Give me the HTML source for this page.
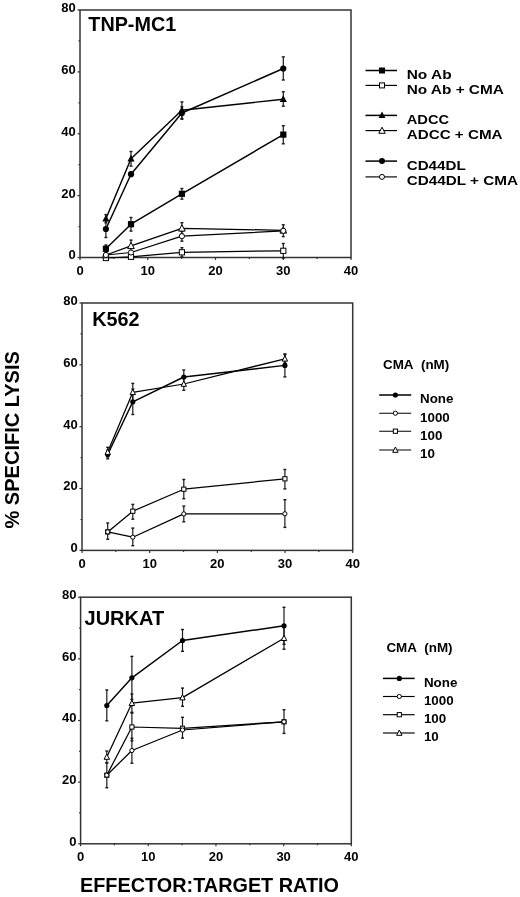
<!DOCTYPE html>
<html><head><meta charset="utf-8"><style>
html,body{margin:0;padding:0;background:#fff;}
body{width:520px;height:897px;overflow:hidden;}
svg{display:block;will-change:transform;}
text{font-family:"Liberation Sans",sans-serif;font-weight:bold;fill:#000;}
.t{font-size:13px;}
.ti{font-size:19.8px;}
.lg{font-size:13.4px;}
.lg1{font-size:12px;}
.ax{font-size:20.5px;}
</style></head><body>
<svg width="520" height="897" viewBox="0 0 520 897">
<rect width="520" height="897" fill="#fff"/>
<rect x="80.00" y="10.00" width="271.00" height="247.50" fill="none" stroke="#333" stroke-width="1.5"/>
<line x1="77.50" y1="257.50" x2="80.00" y2="257.50" stroke="#333" stroke-width="1.2"/>
<text x="75.80" y="259.40" text-anchor="end" class="t">0</text>
<line x1="78.50" y1="226.56" x2="80.00" y2="226.56" stroke="#333" stroke-width="1.2"/>
<line x1="77.50" y1="195.62" x2="80.00" y2="195.62" stroke="#333" stroke-width="1.2"/>
<text x="75.80" y="197.53" text-anchor="end" class="t">20</text>
<line x1="78.50" y1="164.69" x2="80.00" y2="164.69" stroke="#333" stroke-width="1.2"/>
<line x1="77.50" y1="133.75" x2="80.00" y2="133.75" stroke="#333" stroke-width="1.2"/>
<text x="75.80" y="135.65" text-anchor="end" class="t">40</text>
<line x1="78.50" y1="102.81" x2="80.00" y2="102.81" stroke="#333" stroke-width="1.2"/>
<line x1="77.50" y1="71.88" x2="80.00" y2="71.88" stroke="#333" stroke-width="1.2"/>
<text x="75.80" y="73.78" text-anchor="end" class="t">60</text>
<line x1="78.50" y1="40.94" x2="80.00" y2="40.94" stroke="#333" stroke-width="1.2"/>
<line x1="77.50" y1="10.00" x2="80.00" y2="10.00" stroke="#333" stroke-width="1.2"/>
<text x="75.80" y="11.90" text-anchor="end" class="t">80</text>
<line x1="80.00" y1="257.50" x2="80.00" y2="260.00" stroke="#333" stroke-width="1.2"/>
<text x="80.00" y="274.70" text-anchor="middle" class="t">0</text>
<line x1="113.88" y1="257.50" x2="113.88" y2="259.00" stroke="#333" stroke-width="1.2"/>
<line x1="147.75" y1="257.50" x2="147.75" y2="260.00" stroke="#333" stroke-width="1.2"/>
<text x="147.75" y="274.70" text-anchor="middle" class="t">10</text>
<line x1="181.62" y1="257.50" x2="181.62" y2="259.00" stroke="#333" stroke-width="1.2"/>
<line x1="215.50" y1="257.50" x2="215.50" y2="260.00" stroke="#333" stroke-width="1.2"/>
<text x="215.50" y="274.70" text-anchor="middle" class="t">20</text>
<line x1="249.38" y1="257.50" x2="249.38" y2="259.00" stroke="#333" stroke-width="1.2"/>
<line x1="283.25" y1="257.50" x2="283.25" y2="260.00" stroke="#333" stroke-width="1.2"/>
<text x="283.25" y="274.70" text-anchor="middle" class="t">30</text>
<line x1="317.12" y1="257.50" x2="317.12" y2="259.00" stroke="#333" stroke-width="1.2"/>
<line x1="351.00" y1="257.50" x2="351.00" y2="260.00" stroke="#333" stroke-width="1.2"/>
<text x="351.00" y="274.70" text-anchor="middle" class="t">40</text>
<rect x="82.00" y="303.00" width="270.70" height="247.40" fill="none" stroke="#333" stroke-width="1.5"/>
<line x1="79.50" y1="550.40" x2="82.00" y2="550.40" stroke="#333" stroke-width="1.2"/>
<text x="77.80" y="552.30" text-anchor="end" class="t">0</text>
<line x1="80.50" y1="519.48" x2="82.00" y2="519.48" stroke="#333" stroke-width="1.2"/>
<line x1="79.50" y1="488.55" x2="82.00" y2="488.55" stroke="#333" stroke-width="1.2"/>
<text x="77.80" y="490.45" text-anchor="end" class="t">20</text>
<line x1="80.50" y1="457.62" x2="82.00" y2="457.62" stroke="#333" stroke-width="1.2"/>
<line x1="79.50" y1="426.70" x2="82.00" y2="426.70" stroke="#333" stroke-width="1.2"/>
<text x="77.80" y="428.60" text-anchor="end" class="t">40</text>
<line x1="80.50" y1="395.77" x2="82.00" y2="395.77" stroke="#333" stroke-width="1.2"/>
<line x1="79.50" y1="364.85" x2="82.00" y2="364.85" stroke="#333" stroke-width="1.2"/>
<text x="77.80" y="366.75" text-anchor="end" class="t">60</text>
<line x1="80.50" y1="333.92" x2="82.00" y2="333.92" stroke="#333" stroke-width="1.2"/>
<line x1="79.50" y1="303.00" x2="82.00" y2="303.00" stroke="#333" stroke-width="1.2"/>
<text x="77.80" y="304.90" text-anchor="end" class="t">80</text>
<line x1="82.00" y1="550.40" x2="82.00" y2="552.90" stroke="#333" stroke-width="1.2"/>
<text x="82.00" y="567.60" text-anchor="middle" class="t">0</text>
<line x1="115.84" y1="550.40" x2="115.84" y2="551.90" stroke="#333" stroke-width="1.2"/>
<line x1="149.68" y1="550.40" x2="149.68" y2="552.90" stroke="#333" stroke-width="1.2"/>
<text x="149.68" y="567.60" text-anchor="middle" class="t">10</text>
<line x1="183.51" y1="550.40" x2="183.51" y2="551.90" stroke="#333" stroke-width="1.2"/>
<line x1="217.35" y1="550.40" x2="217.35" y2="552.90" stroke="#333" stroke-width="1.2"/>
<text x="217.35" y="567.60" text-anchor="middle" class="t">20</text>
<line x1="251.19" y1="550.40" x2="251.19" y2="551.90" stroke="#333" stroke-width="1.2"/>
<line x1="285.02" y1="550.40" x2="285.02" y2="552.90" stroke="#333" stroke-width="1.2"/>
<text x="285.02" y="567.60" text-anchor="middle" class="t">30</text>
<line x1="318.86" y1="550.40" x2="318.86" y2="551.90" stroke="#333" stroke-width="1.2"/>
<line x1="352.70" y1="550.40" x2="352.70" y2="552.90" stroke="#333" stroke-width="1.2"/>
<text x="352.70" y="567.60" text-anchor="middle" class="t">40</text>
<rect x="80.60" y="597.20" width="270.70" height="246.60" fill="none" stroke="#333" stroke-width="1.5"/>
<line x1="78.10" y1="843.80" x2="80.60" y2="843.80" stroke="#333" stroke-width="1.2"/>
<text x="76.40" y="845.70" text-anchor="end" class="t">0</text>
<line x1="79.10" y1="812.97" x2="80.60" y2="812.97" stroke="#333" stroke-width="1.2"/>
<line x1="78.10" y1="782.15" x2="80.60" y2="782.15" stroke="#333" stroke-width="1.2"/>
<text x="76.40" y="784.05" text-anchor="end" class="t">20</text>
<line x1="79.10" y1="751.33" x2="80.60" y2="751.33" stroke="#333" stroke-width="1.2"/>
<line x1="78.10" y1="720.50" x2="80.60" y2="720.50" stroke="#333" stroke-width="1.2"/>
<text x="76.40" y="722.40" text-anchor="end" class="t">40</text>
<line x1="79.10" y1="689.67" x2="80.60" y2="689.67" stroke="#333" stroke-width="1.2"/>
<line x1="78.10" y1="658.85" x2="80.60" y2="658.85" stroke="#333" stroke-width="1.2"/>
<text x="76.40" y="660.75" text-anchor="end" class="t">60</text>
<line x1="79.10" y1="628.03" x2="80.60" y2="628.03" stroke="#333" stroke-width="1.2"/>
<line x1="78.10" y1="597.20" x2="80.60" y2="597.20" stroke="#333" stroke-width="1.2"/>
<text x="76.40" y="599.10" text-anchor="end" class="t">80</text>
<line x1="80.60" y1="843.80" x2="80.60" y2="846.30" stroke="#333" stroke-width="1.2"/>
<text x="80.60" y="861.00" text-anchor="middle" class="t">0</text>
<line x1="114.44" y1="843.80" x2="114.44" y2="845.30" stroke="#333" stroke-width="1.2"/>
<line x1="148.28" y1="843.80" x2="148.28" y2="846.30" stroke="#333" stroke-width="1.2"/>
<text x="148.28" y="861.00" text-anchor="middle" class="t">10</text>
<line x1="182.11" y1="843.80" x2="182.11" y2="845.30" stroke="#333" stroke-width="1.2"/>
<line x1="215.95" y1="843.80" x2="215.95" y2="846.30" stroke="#333" stroke-width="1.2"/>
<text x="215.95" y="861.00" text-anchor="middle" class="t">20</text>
<line x1="249.79" y1="843.80" x2="249.79" y2="845.30" stroke="#333" stroke-width="1.2"/>
<line x1="283.62" y1="843.80" x2="283.62" y2="846.30" stroke="#333" stroke-width="1.2"/>
<text x="283.62" y="861.00" text-anchor="middle" class="t">30</text>
<line x1="317.46" y1="843.80" x2="317.46" y2="845.30" stroke="#333" stroke-width="1.2"/>
<line x1="351.30" y1="843.80" x2="351.30" y2="846.30" stroke="#333" stroke-width="1.2"/>
<text x="351.30" y="861.00" text-anchor="middle" class="t">40</text>
<path d="M105.90,258.00 L131.00,256.80 L181.90,252.30 L283.30,250.80" fill="none" stroke="#000" stroke-width="1.25" stroke-linejoin="round"/>
<path d="M105.90,255.00 L131.00,245.80 L181.90,228.30 L283.30,230.30" fill="none" stroke="#000" stroke-width="1.25" stroke-linejoin="round"/>
<path d="M105.90,255.00 L131.00,252.50 L181.90,236.20 L283.30,230.80" fill="none" stroke="#000" stroke-width="1.25" stroke-linejoin="round"/>
<path d="M105.90,248.80 L131.00,224.20 L181.90,193.80 L283.30,134.60" fill="none" stroke="#000" stroke-width="1.45" stroke-linejoin="round"/>
<path d="M105.90,229.00 L131.00,174.20 L181.90,113.00 L283.30,68.50" fill="none" stroke="#000" stroke-width="1.45" stroke-linejoin="round"/>
<path d="M105.90,218.70 L131.00,158.80 L181.90,110.20 L283.30,99.20" fill="none" stroke="#000" stroke-width="1.45" stroke-linejoin="round"/>
<line x1="181.90" y1="247.70" x2="181.90" y2="256.90" stroke="#1a1a1a" stroke-width="1.2"/>
<line x1="180.40" y1="247.70" x2="183.40" y2="247.70" stroke="#1a1a1a" stroke-width="1.4"/>
<line x1="180.40" y1="256.90" x2="183.40" y2="256.90" stroke="#1a1a1a" stroke-width="1.4"/>
<line x1="283.30" y1="243.50" x2="283.30" y2="258.10" stroke="#1a1a1a" stroke-width="1.2"/>
<line x1="281.80" y1="243.50" x2="284.80" y2="243.50" stroke="#1a1a1a" stroke-width="1.4"/>
<line x1="281.80" y1="258.10" x2="284.80" y2="258.10" stroke="#1a1a1a" stroke-width="1.4"/>
<line x1="131.00" y1="240.10" x2="131.00" y2="251.50" stroke="#1a1a1a" stroke-width="1.2"/>
<line x1="129.50" y1="240.10" x2="132.50" y2="240.10" stroke="#1a1a1a" stroke-width="1.4"/>
<line x1="129.50" y1="251.50" x2="132.50" y2="251.50" stroke="#1a1a1a" stroke-width="1.4"/>
<line x1="181.90" y1="222.70" x2="181.90" y2="233.90" stroke="#1a1a1a" stroke-width="1.2"/>
<line x1="180.40" y1="222.70" x2="183.40" y2="222.70" stroke="#1a1a1a" stroke-width="1.4"/>
<line x1="180.40" y1="233.90" x2="183.40" y2="233.90" stroke="#1a1a1a" stroke-width="1.4"/>
<line x1="181.90" y1="231.20" x2="181.90" y2="241.20" stroke="#1a1a1a" stroke-width="1.2"/>
<line x1="180.40" y1="231.20" x2="183.40" y2="231.20" stroke="#1a1a1a" stroke-width="1.4"/>
<line x1="180.40" y1="241.20" x2="183.40" y2="241.20" stroke="#1a1a1a" stroke-width="1.4"/>
<line x1="283.30" y1="224.80" x2="283.30" y2="236.60" stroke="#1a1a1a" stroke-width="1.2"/>
<line x1="281.80" y1="224.80" x2="284.80" y2="224.80" stroke="#1a1a1a" stroke-width="1.4"/>
<line x1="281.80" y1="236.60" x2="284.80" y2="236.60" stroke="#1a1a1a" stroke-width="1.4"/>
<line x1="131.00" y1="217.50" x2="131.00" y2="231.10" stroke="#1a1a1a" stroke-width="1.2"/>
<line x1="129.50" y1="217.50" x2="132.50" y2="217.50" stroke="#1a1a1a" stroke-width="1.4"/>
<line x1="129.50" y1="231.10" x2="132.50" y2="231.10" stroke="#1a1a1a" stroke-width="1.4"/>
<line x1="181.90" y1="188.50" x2="181.90" y2="199.10" stroke="#1a1a1a" stroke-width="1.2"/>
<line x1="180.40" y1="188.50" x2="183.40" y2="188.50" stroke="#1a1a1a" stroke-width="1.4"/>
<line x1="180.40" y1="199.10" x2="183.40" y2="199.10" stroke="#1a1a1a" stroke-width="1.4"/>
<line x1="283.30" y1="125.70" x2="283.30" y2="143.80" stroke="#1a1a1a" stroke-width="1.2"/>
<line x1="281.80" y1="125.70" x2="284.80" y2="125.70" stroke="#1a1a1a" stroke-width="1.4"/>
<line x1="281.80" y1="143.80" x2="284.80" y2="143.80" stroke="#1a1a1a" stroke-width="1.4"/>
<line x1="105.90" y1="245.00" x2="105.90" y2="252.00" stroke="#1a1a1a" stroke-width="1.2"/>
<line x1="104.40" y1="245.00" x2="107.40" y2="245.00" stroke="#1a1a1a" stroke-width="1.4"/>
<line x1="104.40" y1="252.00" x2="107.40" y2="252.00" stroke="#1a1a1a" stroke-width="1.4"/>
<line x1="105.90" y1="220.50" x2="105.90" y2="237.50" stroke="#1a1a1a" stroke-width="1.2"/>
<line x1="104.40" y1="220.50" x2="107.40" y2="220.50" stroke="#1a1a1a" stroke-width="1.4"/>
<line x1="104.40" y1="237.50" x2="107.40" y2="237.50" stroke="#1a1a1a" stroke-width="1.4"/>
<line x1="181.90" y1="106.80" x2="181.90" y2="119.20" stroke="#1a1a1a" stroke-width="1.2"/>
<line x1="180.40" y1="106.80" x2="183.40" y2="106.80" stroke="#1a1a1a" stroke-width="1.4"/>
<line x1="180.40" y1="119.20" x2="183.40" y2="119.20" stroke="#1a1a1a" stroke-width="1.4"/>
<line x1="283.30" y1="56.90" x2="283.30" y2="80.00" stroke="#1a1a1a" stroke-width="1.2"/>
<line x1="281.80" y1="56.90" x2="284.80" y2="56.90" stroke="#1a1a1a" stroke-width="1.4"/>
<line x1="281.80" y1="80.00" x2="284.80" y2="80.00" stroke="#1a1a1a" stroke-width="1.4"/>
<line x1="105.90" y1="214.60" x2="105.90" y2="222.80" stroke="#1a1a1a" stroke-width="1.2"/>
<line x1="104.40" y1="214.60" x2="107.40" y2="214.60" stroke="#1a1a1a" stroke-width="1.4"/>
<line x1="104.40" y1="222.80" x2="107.40" y2="222.80" stroke="#1a1a1a" stroke-width="1.4"/>
<line x1="131.00" y1="151.50" x2="131.00" y2="166.10" stroke="#1a1a1a" stroke-width="1.2"/>
<line x1="129.50" y1="151.50" x2="132.50" y2="151.50" stroke="#1a1a1a" stroke-width="1.4"/>
<line x1="129.50" y1="166.10" x2="132.50" y2="166.10" stroke="#1a1a1a" stroke-width="1.4"/>
<line x1="181.90" y1="101.90" x2="181.90" y2="118.50" stroke="#1a1a1a" stroke-width="1.2"/>
<line x1="180.40" y1="101.90" x2="183.40" y2="101.90" stroke="#1a1a1a" stroke-width="1.4"/>
<line x1="180.40" y1="118.50" x2="183.40" y2="118.50" stroke="#1a1a1a" stroke-width="1.4"/>
<line x1="283.30" y1="91.80" x2="283.30" y2="106.20" stroke="#1a1a1a" stroke-width="1.2"/>
<line x1="281.80" y1="91.80" x2="284.80" y2="91.80" stroke="#1a1a1a" stroke-width="1.4"/>
<line x1="281.80" y1="106.20" x2="284.80" y2="106.20" stroke="#1a1a1a" stroke-width="1.4"/>
<rect x="103.30" y="255.40" width="5.20" height="5.20" fill="#fff" stroke="#000" stroke-width="1"/>
<rect x="128.40" y="254.20" width="5.20" height="5.20" fill="#fff" stroke="#000" stroke-width="1"/>
<rect x="179.30" y="249.70" width="5.20" height="5.20" fill="#fff" stroke="#000" stroke-width="1"/>
<rect x="280.70" y="248.20" width="5.20" height="5.20" fill="#fff" stroke="#000" stroke-width="1"/>
<path d="M105.90,251.50 L109.22,257.80 L102.58,257.80Z" fill="#fff" stroke="#000" stroke-width="1" stroke-linejoin="miter"/>
<path d="M131.00,242.30 L134.32,248.60 L127.68,248.60Z" fill="#fff" stroke="#000" stroke-width="1" stroke-linejoin="miter"/>
<path d="M181.90,224.80 L185.22,231.10 L178.58,231.10Z" fill="#fff" stroke="#000" stroke-width="1" stroke-linejoin="miter"/>
<path d="M283.30,226.80 L286.62,233.10 L279.98,233.10Z" fill="#fff" stroke="#000" stroke-width="1" stroke-linejoin="miter"/>
<circle cx="105.90" cy="255.00" r="2.60" fill="#fff" stroke="#000" stroke-width="1"/>
<circle cx="131.00" cy="252.50" r="2.60" fill="#fff" stroke="#000" stroke-width="1"/>
<circle cx="181.90" cy="236.20" r="2.60" fill="#fff" stroke="#000" stroke-width="1"/>
<circle cx="283.30" cy="230.80" r="2.60" fill="#fff" stroke="#000" stroke-width="1"/>
<rect x="102.80" y="245.70" width="6.20" height="6.20" fill="#000"/>
<rect x="127.90" y="221.10" width="6.20" height="6.20" fill="#000"/>
<rect x="178.80" y="190.70" width="6.20" height="6.20" fill="#000"/>
<rect x="280.20" y="131.50" width="6.20" height="6.20" fill="#000"/>
<circle cx="105.90" cy="229.00" r="3.10" fill="#000"/>
<circle cx="131.00" cy="174.20" r="3.10" fill="#000"/>
<circle cx="181.90" cy="113.00" r="3.10" fill="#000"/>
<circle cx="283.30" cy="68.50" r="3.10" fill="#000"/>
<path d="M105.90,214.70 L109.47,221.40 L102.34,221.40Z" fill="#000"/>
<path d="M131.00,154.80 L134.56,161.50 L127.44,161.50Z" fill="#000"/>
<path d="M181.90,106.20 L185.47,112.90 L178.34,112.90Z" fill="#000"/>
<path d="M283.30,95.20 L286.87,101.90 L279.74,101.90Z" fill="#000"/>
<path d="M107.70,531.90 L132.80,511.20 L183.80,489.20 L284.90,478.80" fill="none" stroke="#000" stroke-width="1.25" stroke-linejoin="round"/>
<path d="M107.70,531.90 L132.80,537.20 L183.80,513.90 L284.90,513.80" fill="none" stroke="#000" stroke-width="1.25" stroke-linejoin="round"/>
<path d="M107.70,454.50 L132.80,401.80 L183.80,377.00 L284.90,365.40" fill="none" stroke="#000" stroke-width="1.45" stroke-linejoin="round"/>
<path d="M107.70,452.10 L132.80,392.30 L183.80,384.00 L284.90,358.80" fill="none" stroke="#000" stroke-width="1.25" stroke-linejoin="round"/>
<line x1="107.70" y1="523.00" x2="107.70" y2="539.30" stroke="#1a1a1a" stroke-width="1.2"/>
<line x1="106.20" y1="523.00" x2="109.20" y2="523.00" stroke="#1a1a1a" stroke-width="1.4"/>
<line x1="106.20" y1="539.30" x2="109.20" y2="539.30" stroke="#1a1a1a" stroke-width="1.4"/>
<line x1="132.80" y1="504.40" x2="132.80" y2="519.20" stroke="#1a1a1a" stroke-width="1.2"/>
<line x1="131.30" y1="504.40" x2="134.30" y2="504.40" stroke="#1a1a1a" stroke-width="1.4"/>
<line x1="131.30" y1="519.20" x2="134.30" y2="519.20" stroke="#1a1a1a" stroke-width="1.4"/>
<line x1="183.80" y1="479.50" x2="183.80" y2="498.70" stroke="#1a1a1a" stroke-width="1.2"/>
<line x1="182.30" y1="479.50" x2="185.30" y2="479.50" stroke="#1a1a1a" stroke-width="1.4"/>
<line x1="182.30" y1="498.70" x2="185.30" y2="498.70" stroke="#1a1a1a" stroke-width="1.4"/>
<line x1="284.90" y1="469.50" x2="284.90" y2="488.90" stroke="#1a1a1a" stroke-width="1.2"/>
<line x1="283.40" y1="469.50" x2="286.40" y2="469.50" stroke="#1a1a1a" stroke-width="1.4"/>
<line x1="283.40" y1="488.90" x2="286.40" y2="488.90" stroke="#1a1a1a" stroke-width="1.4"/>
<line x1="132.80" y1="528.10" x2="132.80" y2="545.70" stroke="#1a1a1a" stroke-width="1.2"/>
<line x1="131.30" y1="528.10" x2="134.30" y2="528.10" stroke="#1a1a1a" stroke-width="1.4"/>
<line x1="131.30" y1="545.70" x2="134.30" y2="545.70" stroke="#1a1a1a" stroke-width="1.4"/>
<line x1="183.80" y1="506.10" x2="183.80" y2="521.80" stroke="#1a1a1a" stroke-width="1.2"/>
<line x1="182.30" y1="506.10" x2="185.30" y2="506.10" stroke="#1a1a1a" stroke-width="1.4"/>
<line x1="182.30" y1="521.80" x2="185.30" y2="521.80" stroke="#1a1a1a" stroke-width="1.4"/>
<line x1="284.90" y1="499.70" x2="284.90" y2="527.40" stroke="#1a1a1a" stroke-width="1.2"/>
<line x1="283.40" y1="499.70" x2="286.40" y2="499.70" stroke="#1a1a1a" stroke-width="1.4"/>
<line x1="283.40" y1="527.40" x2="286.40" y2="527.40" stroke="#1a1a1a" stroke-width="1.4"/>
<line x1="107.70" y1="450.20" x2="107.70" y2="458.80" stroke="#1a1a1a" stroke-width="1.2"/>
<line x1="106.20" y1="450.20" x2="109.20" y2="450.20" stroke="#1a1a1a" stroke-width="1.4"/>
<line x1="106.20" y1="458.80" x2="109.20" y2="458.80" stroke="#1a1a1a" stroke-width="1.4"/>
<line x1="132.80" y1="389.10" x2="132.80" y2="414.50" stroke="#1a1a1a" stroke-width="1.2"/>
<line x1="131.30" y1="389.10" x2="134.30" y2="389.10" stroke="#1a1a1a" stroke-width="1.4"/>
<line x1="131.30" y1="414.50" x2="134.30" y2="414.50" stroke="#1a1a1a" stroke-width="1.4"/>
<line x1="183.80" y1="370.00" x2="183.80" y2="384.00" stroke="#1a1a1a" stroke-width="1.2"/>
<line x1="182.30" y1="370.00" x2="185.30" y2="370.00" stroke="#1a1a1a" stroke-width="1.4"/>
<line x1="182.30" y1="384.00" x2="185.30" y2="384.00" stroke="#1a1a1a" stroke-width="1.4"/>
<line x1="284.90" y1="353.90" x2="284.90" y2="376.90" stroke="#1a1a1a" stroke-width="1.2"/>
<line x1="283.40" y1="353.90" x2="286.40" y2="353.90" stroke="#1a1a1a" stroke-width="1.4"/>
<line x1="283.40" y1="376.90" x2="286.40" y2="376.90" stroke="#1a1a1a" stroke-width="1.4"/>
<line x1="107.70" y1="447.30" x2="107.70" y2="456.90" stroke="#1a1a1a" stroke-width="1.2"/>
<line x1="106.20" y1="447.30" x2="109.20" y2="447.30" stroke="#1a1a1a" stroke-width="1.4"/>
<line x1="106.20" y1="456.90" x2="109.20" y2="456.90" stroke="#1a1a1a" stroke-width="1.4"/>
<line x1="132.80" y1="383.40" x2="132.80" y2="401.20" stroke="#1a1a1a" stroke-width="1.2"/>
<line x1="131.30" y1="383.40" x2="134.30" y2="383.40" stroke="#1a1a1a" stroke-width="1.4"/>
<line x1="131.30" y1="401.20" x2="134.30" y2="401.20" stroke="#1a1a1a" stroke-width="1.4"/>
<line x1="183.80" y1="377.70" x2="183.80" y2="390.30" stroke="#1a1a1a" stroke-width="1.2"/>
<line x1="182.30" y1="377.70" x2="185.30" y2="377.70" stroke="#1a1a1a" stroke-width="1.4"/>
<line x1="182.30" y1="390.30" x2="185.30" y2="390.30" stroke="#1a1a1a" stroke-width="1.4"/>
<line x1="284.90" y1="354.60" x2="284.90" y2="363.00" stroke="#1a1a1a" stroke-width="1.2"/>
<line x1="283.40" y1="354.60" x2="286.40" y2="354.60" stroke="#1a1a1a" stroke-width="1.4"/>
<line x1="283.40" y1="363.00" x2="286.40" y2="363.00" stroke="#1a1a1a" stroke-width="1.4"/>
<rect x="105.60" y="529.80" width="4.20" height="4.20" fill="#fff" stroke="#000" stroke-width="1"/>
<rect x="130.70" y="509.10" width="4.20" height="4.20" fill="#fff" stroke="#000" stroke-width="1"/>
<rect x="181.70" y="487.10" width="4.20" height="4.20" fill="#fff" stroke="#000" stroke-width="1"/>
<rect x="282.80" y="476.70" width="4.20" height="4.20" fill="#fff" stroke="#000" stroke-width="1"/>
<circle cx="107.70" cy="531.90" r="2.10" fill="#fff" stroke="#000" stroke-width="1"/>
<circle cx="132.80" cy="537.20" r="2.10" fill="#fff" stroke="#000" stroke-width="1"/>
<circle cx="183.80" cy="513.90" r="2.10" fill="#fff" stroke="#000" stroke-width="1"/>
<circle cx="284.90" cy="513.80" r="2.10" fill="#fff" stroke="#000" stroke-width="1"/>
<circle cx="107.70" cy="454.50" r="2.60" fill="#000"/>
<circle cx="132.80" cy="401.80" r="2.60" fill="#000"/>
<circle cx="183.80" cy="377.00" r="2.60" fill="#000"/>
<circle cx="284.90" cy="365.40" r="2.60" fill="#000"/>
<path d="M107.70,449.10 L110.42,454.40 L104.98,454.40Z" fill="#fff" stroke="#000" stroke-width="1" stroke-linejoin="miter"/>
<path d="M132.80,389.30 L135.52,394.60 L130.08,394.60Z" fill="#fff" stroke="#000" stroke-width="1" stroke-linejoin="miter"/>
<path d="M183.80,381.00 L186.52,386.30 L181.08,386.30Z" fill="#fff" stroke="#000" stroke-width="1" stroke-linejoin="miter"/>
<path d="M284.90,355.80 L287.62,361.10 L282.18,361.10Z" fill="#fff" stroke="#000" stroke-width="1" stroke-linejoin="miter"/>
<path d="M106.80,705.50 L131.90,677.80 L182.50,640.50 L284.00,625.80" fill="none" stroke="#000" stroke-width="1.45" stroke-linejoin="round"/>
<path d="M106.80,757.00 L131.90,703.20 L182.50,697.60 L284.00,638.20" fill="none" stroke="#000" stroke-width="1.25" stroke-linejoin="round"/>
<path d="M106.80,775.20 L131.90,727.00 L182.50,728.30 L284.00,721.80" fill="none" stroke="#000" stroke-width="1.25" stroke-linejoin="round"/>
<path d="M106.80,775.20 L131.90,750.50 L182.50,730.00 L284.00,721.80" fill="none" stroke="#000" stroke-width="1.25" stroke-linejoin="round"/>
<line x1="106.80" y1="690.00" x2="106.80" y2="720.80" stroke="#1a1a1a" stroke-width="1.2"/>
<line x1="105.30" y1="690.00" x2="108.30" y2="690.00" stroke="#1a1a1a" stroke-width="1.4"/>
<line x1="105.30" y1="720.80" x2="108.30" y2="720.80" stroke="#1a1a1a" stroke-width="1.4"/>
<line x1="131.90" y1="656.40" x2="131.90" y2="699.40" stroke="#1a1a1a" stroke-width="1.2"/>
<line x1="130.40" y1="656.40" x2="133.40" y2="656.40" stroke="#1a1a1a" stroke-width="1.4"/>
<line x1="130.40" y1="699.40" x2="133.40" y2="699.40" stroke="#1a1a1a" stroke-width="1.4"/>
<line x1="182.50" y1="629.50" x2="182.50" y2="651.30" stroke="#1a1a1a" stroke-width="1.2"/>
<line x1="181.00" y1="629.50" x2="184.00" y2="629.50" stroke="#1a1a1a" stroke-width="1.4"/>
<line x1="181.00" y1="651.30" x2="184.00" y2="651.30" stroke="#1a1a1a" stroke-width="1.4"/>
<line x1="284.00" y1="607.30" x2="284.00" y2="644.30" stroke="#1a1a1a" stroke-width="1.2"/>
<line x1="282.50" y1="607.30" x2="285.50" y2="607.30" stroke="#1a1a1a" stroke-width="1.4"/>
<line x1="282.50" y1="644.30" x2="285.50" y2="644.30" stroke="#1a1a1a" stroke-width="1.4"/>
<line x1="106.80" y1="751.00" x2="106.80" y2="763.00" stroke="#1a1a1a" stroke-width="1.2"/>
<line x1="105.30" y1="751.00" x2="108.30" y2="751.00" stroke="#1a1a1a" stroke-width="1.4"/>
<line x1="105.30" y1="763.00" x2="108.30" y2="763.00" stroke="#1a1a1a" stroke-width="1.4"/>
<line x1="131.90" y1="694.00" x2="131.90" y2="712.30" stroke="#1a1a1a" stroke-width="1.2"/>
<line x1="130.40" y1="694.00" x2="133.40" y2="694.00" stroke="#1a1a1a" stroke-width="1.4"/>
<line x1="130.40" y1="712.30" x2="133.40" y2="712.30" stroke="#1a1a1a" stroke-width="1.4"/>
<line x1="182.50" y1="688.10" x2="182.50" y2="706.30" stroke="#1a1a1a" stroke-width="1.2"/>
<line x1="181.00" y1="688.10" x2="184.00" y2="688.10" stroke="#1a1a1a" stroke-width="1.4"/>
<line x1="181.00" y1="706.30" x2="184.00" y2="706.30" stroke="#1a1a1a" stroke-width="1.4"/>
<line x1="284.00" y1="627.20" x2="284.00" y2="649.20" stroke="#1a1a1a" stroke-width="1.2"/>
<line x1="282.50" y1="627.20" x2="285.50" y2="627.20" stroke="#1a1a1a" stroke-width="1.4"/>
<line x1="282.50" y1="649.20" x2="285.50" y2="649.20" stroke="#1a1a1a" stroke-width="1.4"/>
<line x1="106.80" y1="762.70" x2="106.80" y2="787.70" stroke="#1a1a1a" stroke-width="1.2"/>
<line x1="105.30" y1="762.70" x2="108.30" y2="762.70" stroke="#1a1a1a" stroke-width="1.4"/>
<line x1="105.30" y1="787.70" x2="108.30" y2="787.70" stroke="#1a1a1a" stroke-width="1.4"/>
<line x1="131.90" y1="713.10" x2="131.90" y2="740.90" stroke="#1a1a1a" stroke-width="1.2"/>
<line x1="130.40" y1="713.10" x2="133.40" y2="713.10" stroke="#1a1a1a" stroke-width="1.4"/>
<line x1="130.40" y1="740.90" x2="133.40" y2="740.90" stroke="#1a1a1a" stroke-width="1.4"/>
<line x1="182.50" y1="717.30" x2="182.50" y2="738.10" stroke="#1a1a1a" stroke-width="1.2"/>
<line x1="181.00" y1="717.30" x2="184.00" y2="717.30" stroke="#1a1a1a" stroke-width="1.4"/>
<line x1="181.00" y1="738.10" x2="184.00" y2="738.10" stroke="#1a1a1a" stroke-width="1.4"/>
<line x1="284.00" y1="709.70" x2="284.00" y2="733.40" stroke="#1a1a1a" stroke-width="1.2"/>
<line x1="282.50" y1="709.70" x2="285.50" y2="709.70" stroke="#1a1a1a" stroke-width="1.4"/>
<line x1="282.50" y1="733.40" x2="285.50" y2="733.40" stroke="#1a1a1a" stroke-width="1.4"/>
<line x1="131.90" y1="738.20" x2="131.90" y2="763.20" stroke="#1a1a1a" stroke-width="1.2"/>
<line x1="130.40" y1="738.20" x2="133.40" y2="738.20" stroke="#1a1a1a" stroke-width="1.4"/>
<line x1="130.40" y1="763.20" x2="133.40" y2="763.20" stroke="#1a1a1a" stroke-width="1.4"/>
<circle cx="106.80" cy="705.50" r="2.60" fill="#000"/>
<circle cx="131.90" cy="677.80" r="2.60" fill="#000"/>
<circle cx="182.50" cy="640.50" r="2.60" fill="#000"/>
<circle cx="284.00" cy="625.80" r="2.60" fill="#000"/>
<path d="M106.80,754.00 L109.52,759.30 L104.08,759.30Z" fill="#fff" stroke="#000" stroke-width="1" stroke-linejoin="miter"/>
<path d="M131.90,700.20 L134.62,705.50 L129.18,705.50Z" fill="#fff" stroke="#000" stroke-width="1" stroke-linejoin="miter"/>
<path d="M182.50,694.60 L185.22,699.90 L179.78,699.90Z" fill="#fff" stroke="#000" stroke-width="1" stroke-linejoin="miter"/>
<path d="M284.00,635.20 L286.72,640.50 L281.28,640.50Z" fill="#fff" stroke="#000" stroke-width="1" stroke-linejoin="miter"/>
<rect x="104.70" y="773.10" width="4.20" height="4.20" fill="#fff" stroke="#000" stroke-width="1"/>
<rect x="129.80" y="724.90" width="4.20" height="4.20" fill="#fff" stroke="#000" stroke-width="1"/>
<rect x="180.40" y="726.20" width="4.20" height="4.20" fill="#fff" stroke="#000" stroke-width="1"/>
<rect x="281.90" y="719.70" width="4.20" height="4.20" fill="#fff" stroke="#000" stroke-width="1"/>
<circle cx="106.80" cy="775.20" r="2.10" fill="#fff" stroke="#000" stroke-width="1"/>
<circle cx="131.90" cy="750.50" r="2.10" fill="#fff" stroke="#000" stroke-width="1"/>
<circle cx="182.50" cy="730.00" r="2.10" fill="#fff" stroke="#000" stroke-width="1"/>
<circle cx="284.00" cy="721.80" r="2.10" fill="#fff" stroke="#000" stroke-width="1"/>
<text x="88.3" y="30.6" class="ti">TNP-MC1</text>
<text x="92.3" y="325.8" class="ti">K562</text>
<text x="84.6" y="624.6" class="ti" textLength="79.5" lengthAdjust="spacingAndGlyphs">JURKAT</text>
<line x1="365.5" y1="70.50" x2="397" y2="70.50" stroke="#000" stroke-width="1.5"/>
<rect x="379.00" y="67.50" width="6.00" height="6.00" fill="#000"/>
<text x="406.7" y="78.80" class="lg1" textLength="44.9" lengthAdjust="spacingAndGlyphs">No Ab</text>
<line x1="365.5" y1="85.40" x2="397" y2="85.40" stroke="#000" stroke-width="1.15"/>
<rect x="379.50" y="82.90" width="5.00" height="5.00" fill="#fff" stroke="#000" stroke-width="1"/>
<text x="406.7" y="93.70" class="lg1" textLength="97.2" lengthAdjust="spacingAndGlyphs">No Ab + CMA</text>
<line x1="365.5" y1="115.40" x2="397" y2="115.40" stroke="#000" stroke-width="1.5"/>
<path d="M382.00,111.50 L385.45,118.00 L378.55,118.00Z" fill="#000"/>
<text x="406.7" y="123.70" class="lg1" textLength="42.4" lengthAdjust="spacingAndGlyphs">ADCC</text>
<line x1="365.5" y1="130.60" x2="397" y2="130.60" stroke="#000" stroke-width="1.15"/>
<path d="M382.00,127.20 L385.20,133.30 L378.80,133.30Z" fill="#fff" stroke="#000" stroke-width="1" stroke-linejoin="miter"/>
<text x="406.7" y="138.90" class="lg1" textLength="95.9" lengthAdjust="spacingAndGlyphs">ADCC + CMA</text>
<line x1="365.5" y1="161.10" x2="397" y2="161.10" stroke="#000" stroke-width="1.5"/>
<circle cx="382.00" cy="161.10" r="3.00" fill="#000"/>
<text x="406.7" y="170.30" class="lg1" textLength="59.0" lengthAdjust="spacingAndGlyphs">CD44DL</text>
<line x1="365.5" y1="176.90" x2="397" y2="176.90" stroke="#000" stroke-width="1.15"/>
<circle cx="382.00" cy="176.90" r="2.50" fill="#fff" stroke="#000" stroke-width="1"/>
<text x="406.7" y="185.20" class="lg1" textLength="111.3" lengthAdjust="spacingAndGlyphs">CD44DL + CMA</text>
<text x="383.0" y="368.5" class="lg">CMA&#160;&#160;(nM)</text>
<line x1="379.20" y1="395.00" x2="411.20" y2="395.00" stroke="#000" stroke-width="1.5"/>
<circle cx="395.40" cy="395.00" r="2.60" fill="#000"/>
<text x="420.00" y="403.30" class="lg">None</text>
<line x1="379.20" y1="413.20" x2="411.20" y2="413.20" stroke="#000" stroke-width="1.15"/>
<circle cx="395.40" cy="413.20" r="2.10" fill="#fff" stroke="#000" stroke-width="1"/>
<text x="420.00" y="421.50" class="lg">1000</text>
<line x1="379.20" y1="431.20" x2="411.20" y2="431.20" stroke="#000" stroke-width="1.15"/>
<rect x="393.30" y="429.10" width="4.20" height="4.20" fill="#fff" stroke="#000" stroke-width="1"/>
<text x="420.00" y="439.50" class="lg">100</text>
<line x1="379.20" y1="450.00" x2="411.20" y2="450.00" stroke="#000" stroke-width="1.15"/>
<path d="M395.40,447.00 L398.12,452.30 L392.68,452.30Z" fill="#fff" stroke="#000" stroke-width="1" stroke-linejoin="miter"/>
<text x="420.00" y="458.30" class="lg">10</text>
<text x="386.4" y="651.9" class="lg">CMA&#160;&#160;(nM)</text>
<line x1="383.00" y1="678.40" x2="414.70" y2="678.40" stroke="#000" stroke-width="1.5"/>
<circle cx="399.30" cy="678.40" r="2.60" fill="#000"/>
<text x="423.90" y="686.70" class="lg">None</text>
<line x1="383.00" y1="696.50" x2="414.70" y2="696.50" stroke="#000" stroke-width="1.15"/>
<circle cx="399.30" cy="696.50" r="2.10" fill="#fff" stroke="#000" stroke-width="1"/>
<text x="423.90" y="704.80" class="lg">1000</text>
<line x1="383.00" y1="714.70" x2="414.70" y2="714.70" stroke="#000" stroke-width="1.15"/>
<rect x="397.20" y="712.60" width="4.20" height="4.20" fill="#fff" stroke="#000" stroke-width="1"/>
<text x="423.90" y="723.00" class="lg">100</text>
<line x1="383.00" y1="733.00" x2="414.70" y2="733.00" stroke="#000" stroke-width="1.15"/>
<path d="M399.30,730.00 L402.02,735.30 L396.58,735.30Z" fill="#fff" stroke="#000" stroke-width="1" stroke-linejoin="miter"/>
<text x="423.90" y="741.30" class="lg">10</text>
<text x="80.0" y="892.0" class="ax" textLength="259.0" lengthAdjust="spacingAndGlyphs">EFFECTOR:TARGET RATIO</text>
<text transform="translate(18.6,528.6) rotate(-90)" x="0" y="0" class="ax" textLength="177.5" lengthAdjust="spacingAndGlyphs">% SPECIFIC LYSIS</text>
</svg>
</body></html>
